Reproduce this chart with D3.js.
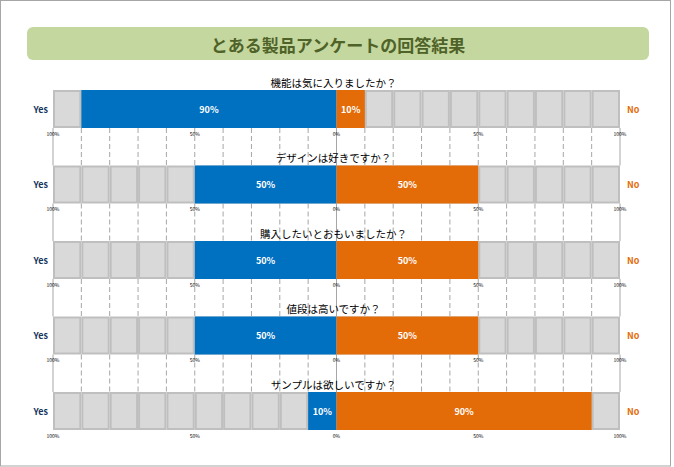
<!DOCTYPE html>
<html>
<head>
<meta charset="utf-8">
<script src="https://cdn.jsdelivr.net/npm/d3@7"></script>
<style>
  body { margin: 0; background: #fff; }
  text { font-family: "Noto Sans CJK JP", "DejaVu Sans", sans-serif; }
</style>
</head>
<body>
<div id="canvas"></div>
<script>
"use strict"

/* survey data */
let questions = ["機能は気に入りましたか？", "デザインは好きですか？", "購入したいとおもいましたか？", "値段は高いですか？", "サンプルは欲しいですか？"];
let yesValues = [90, 50, 50, 50, 10];
let noValues = [10, 50, 50, 50, 90];
let tickValues = [-100, -50, 0, 50, 100];
let tickLabels = ["100%", "50%", "0%", "50%", "100%"];
let cellSteps = d3.range(-100, 100, 10);
let gridSteps = d3.range(-100, 101, 10);

let drawing = d3.select("#canvas")
    .append("svg")
    .attr("width", 674)
    .attr("height", 467);

/* outer frame */
let frame = drawing.append("rect")
    .attr("x", 0.5).attr("y", 0.5)
    .attr("width", 670).attr("height", 465.5)
    .attr("fill", "#fff")
    .attr("stroke", "#a6a6a6");

/* title band */
let titleBox = drawing.append("rect")
    .attr("x", 27).attr("y", 27)
    .attr("width", 622).attr("height", 33)
    .attr("rx", 6)
    .attr("fill", "#c4d79f");

let title = drawing.append("text")
    .attr("x", 338).attr("y", 44)
    .attr("text-anchor", "middle")
    .attr("dominant-baseline", "central")
    .attr("font-size", 17).attr("font-weight", "bold")
    .attr("fill", "#4f6228")
    .text("とある製品アンケートの回答結果");

/* scales */
let x = d3.scaleLinear().domain([-100, 100]).range([53, 620]);
let y = d3.scalePoint().domain(d3.range(questions.length)).range([90, 392]);
let barH = 38;

/* dashed grid between rows */
for (let i = 0; i < questions.length - 1; i++) {
  drawing.append("g").selectAll("line")
    .data(gridSteps)
    .join("line")
    .attr("x1", d => x(d)).attr("x2", d => x(d))
    .attr("y1", y(i) + barH).attr("y2", y(i + 1))
    .attr("stroke", "#a6a6a6")
    .attr("stroke-width", 1)
    .attr("stroke-dasharray", d => (d % 100 === 0) ? null : "5,3");
}

questions.forEach(function (q, i) {
  let top = y(i);
  let row = drawing.append("g");

  /* background cells */
  row.selectAll("rect.cell")
    .data(cellSteps)
    .join("rect")
    .attr("class", "cell")
    .attr("x", d => x(d) + 1).attr("y", top + 1)
    .attr("width", x(10) - x(0) - 2).attr("height", barH - 2)
    .attr("fill", "#d9d9d9")
    .attr("stroke", "#bfbfbf")
    .attr("stroke-width", 2);

  /* yes bar */
  row.append("rect")
    .attr("x", x(-yesValues[i])).attr("y", top)
    .attr("width", x(0) - x(-yesValues[i])).attr("height", barH)
    .attr("fill", "#0070c0");

  /* no bar */
  row.append("rect")
    .attr("x", x(0)).attr("y", top)
    .attr("width", x(noValues[i]) - x(0)).attr("height", barH)
    .attr("fill", "#e36c09");

  row.append("text")
    .attr("x", (x(-yesValues[i]) + x(0)) / 2).attr("y", top + barH / 2)
    .attr("text-anchor", "middle").attr("dominant-baseline", "central")
    .attr("font-family", "DejaVu Sans")
    .attr("font-size", 9).attr("font-weight", "bold").attr("fill", "#fff")
    .text(yesValues[i] + "%");

  row.append("text")
    .attr("x", (x(noValues[i]) + x(0)) / 2).attr("y", top + barH / 2)
    .attr("text-anchor", "middle").attr("dominant-baseline", "central")
    .attr("font-family", "DejaVu Sans")
    .attr("font-size", 9).attr("font-weight", "bold").attr("fill", "#fff")
    .text(noValues[i] + "%");

  /* question */
  row.append("text")
    .attr("x", x(0) - 3).attr("y", top - 8)
    .attr("text-anchor", "middle").attr("dominant-baseline", "central")
    .attr("font-size", 10.5).attr("fill", "#000")
    .text(q);

  /* side labels */
  row.append("text")
    .attr("x", 48).attr("y", top + barH / 2)
    .attr("text-anchor", "end").attr("dominant-baseline", "central")
    .attr("font-family", "DejaVu Sans")
    .attr("font-size", 9).attr("font-weight", "bold").attr("fill", "#17375e")
    .text("Yes");

  row.append("text")
    .attr("x", 627).attr("y", top + barH / 2)
    .attr("dominant-baseline", "central")
    .attr("font-family", "DejaVu Sans")
    .attr("font-size", 9).attr("font-weight", "bold").attr("fill", "#e36c09")
    .text("No");

  /* tick labels */
  row.selectAll("text.tick")
    .data(tickValues)
    .join("text")
    .attr("class", "tick")
    .attr("x", d => x(d)).attr("y", top + barH + 5)
    .attr("text-anchor", "middle").attr("dominant-baseline", "central")
    .attr("font-family", "DejaVu Sans")
    .attr("font-size", 5).attr("fill", "#000")
    .text((d, k) => tickLabels[k]);
});
</script>
</body>
</html>
